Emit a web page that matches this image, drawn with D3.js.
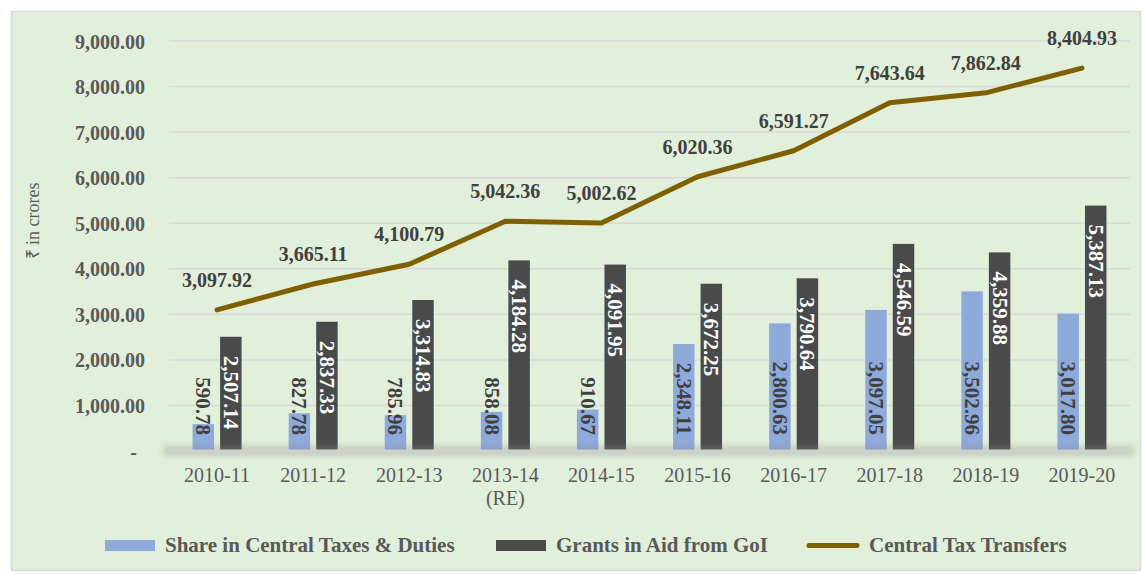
<!DOCTYPE html>
<html lang="en">
<head>
<meta charset="UTF-8">
<title>Central Tax Transfers</title>
<style>
    body { margin: 0; background: #fff; }
    svg text { font-family: 'Liberation Serif', 'Times New Roman', serif; }
</style>
<script src="https://d3js.org/d3.v7.min.js"></script>
</head>
<body>
<svg id="chart" width="1143" height="574"></svg>
<script>
    // data
    let years = ["2010-11", "2011-12", "2012-13", "2013-14|(RE)", "2014-15", "2015-16", "2016-17", "2017-18", "2018-19", "2019-20"];
    let shareTaxes = [590.78, 827.78, 785.96, 858.08, 910.67, 2348.11, 2800.63, 3097.05, 3502.96, 3017.80];
    let grantsAid = [2507.14, 2837.33, 3314.83, 4184.28, 4091.95, 3672.25, 3790.64, 4546.59, 4359.88, 5387.13];
    let transfers = [3097.92, 3665.11, 4100.79, 5042.36, 5002.62, 6020.36, 6591.27, 7643.64, 7862.84, 8404.93];
    let yTicks = [0, 1000, 2000, 3000, 4000, 5000, 6000, 7000, 8000, 9000];
    let seriesNames = ["Share in Central Taxes & Duties", "Grants in Aid from GoI", "Central Tax Transfers"];

    let margin = {top: 41, left: 169, right: 13, bottom: 123};
    let W = 1143, H = 574;
    let plotRight = W - margin.right, plotBottom = 451;

    let svg = d3.select("#chart");
    let fmt = d3.format(",.2f");

    let defs = svg.append("defs");
    defs.append("filter").attr("id", "blur").attr("x", "-5%").attr("y", "-200%").attr("width", "110%").attr("height", "500%")
        .append("feGaussianBlur").attr("stdDeviation", 3);

    // background + border
    svg.append("rect")
        .attr("x", 11.5).attr("y", 11.5)
        .attr("width", W - 14).attr("height", H - 15)
        .attr("fill", "#e2efda")
        .attr("stroke", "#d9d9d9").attr("stroke-width", 1.5);

    let x0 = d3.scaleBand().domain(years).range([margin.left, plotRight])
        .paddingInner(0.49).paddingOuter(0.245);
    let x1 = d3.scaleBand().domain(["share", "grants"]).range([0, x0.bandwidth()]).paddingInner(0.22);
    let y = d3.scaleLinear().domain([0, 9000]).range([plotBottom, margin.top]);

    // gridlines
    svg.append("g").selectAll("line")
        .data(yTicks.filter(d => d > 0))
        .join("line")
        .attr("x1", margin.left).attr("x2", plotRight)
        .attr("y1", d => y(d)).attr("y2", d => y(d))
        .attr("stroke", "#d9d9d9").attr("stroke-width", 1.5);

    // y axis labels
    let yAxis = svg.append("g")
        .attr("transform", "translate(" + (margin.left - 24) + ",0)")
        .call(d3.axisLeft(y).tickValues(yTicks).tickSize(0)
            .tickFormat(d => d === 0 ? "-" : fmt(d)));
    yAxis.select(".domain").remove();
    yAxis.selectAll("text")
        .attr("font-family", "'Liberation Serif', serif")
        .attr("font-size", 20).attr("font-weight", "bold")
        .attr("fill", "#595959")
        .attr("dy", "0.35em").attr("x", 0);
    yAxis.selectAll("text").filter(d => d === 0).attr("x", -8);

    // y axis title
    svg.append("text")
        .attr("transform", "translate(33,221) rotate(-90)")
        .attr("text-anchor", "middle").attr("dominant-baseline", "central")
        .attr("font-size", 18).attr("fill", "#595959")
        .text("₹ in crores");

    // bars
    let groups = svg.append("g").selectAll("g")
        .data(years)
        .join("g")
        .attr("transform", d => "translate(" + x0(d) + ",0)");

    groups.append("rect")
        .attr("x", x1("share")).attr("width", x1.bandwidth())
        .attr("y", (d, i) => y(shareTaxes[i]))
        .attr("height", (d, i) => plotBottom - y(shareTaxes[i]))
        .attr("fill", "#8eaadb");

    groups.append("rect")
        .attr("x", x1("grants")).attr("width", x1.bandwidth())
        .attr("y", (d, i) => y(grantsAid[i]))
        .attr("height", (d, i) => plotBottom - y(grantsAid[i]))
        .attr("fill", "#4a4a4a");

    // floor shadow
    svg.append("rect")
        .attr("x", margin.left - 6).attr("y", plotBottom - 5)
        .attr("width", plotRight - margin.left + 10).attr("height", 10)
        .attr("fill", "#8a8a8a").attr("opacity", 0.35)
        .attr("filter", "url(#blur)");
    svg.append("line")
        .attr("x1", margin.left).attr("x2", plotRight)
        .attr("y1", plotBottom).attr("y2", plotBottom)
        .attr("stroke", "#d0d0d0").attr("stroke-width", 3);

    // bar labels
    groups.append("text")
        .attr("transform", (d, i) => "translate(" + (x1("share") + x1.bandwidth() / 2) + "," + (plotBottom - 16) + ") rotate(90)")
        .attr("text-anchor", "end").attr("dominant-baseline", "central")
        .attr("font-size", 21).attr("font-weight", "bold").attr("fill", "#404040")
        .text((d, i) => fmt(shareTaxes[i]));

    groups.append("text")
        .attr("transform", (d, i) => "translate(" + (x1("grants") + x1.bandwidth() / 2) + "," + (y(grantsAid[i]) + 19) + ") rotate(90)")
        .attr("text-anchor", "start").attr("dominant-baseline", "central")
        .attr("font-size", 21).attr("font-weight", "bold").attr("fill", "#ffffff")
        .text((d, i) => fmt(grantsAid[i]));

    // line
    let cx = d => x0(d) + x0.bandwidth() / 2;
    let line = d3.line()
        .x((d, i) => cx(years[i]))
        .y(d => y(d));
    svg.append("path")
        .datum(transfers)
        .attr("d", line)
        .attr("fill", "none")
        .attr("stroke", "#7f6000").attr("stroke-width", 5)
        .attr("stroke-linecap", "round").attr("stroke-linejoin", "round");

    svg.append("g").selectAll("text")
        .data(transfers)
        .join("text")
        .attr("x", (d, i) => cx(years[i]))
        .attr("y", d => y(d) - 23)
        .attr("text-anchor", "middle")
        .attr("font-size", 20).attr("font-weight", "bold").attr("fill", "#404040")
        .text(d => fmt(d));

    // x axis labels
    let xl = svg.append("g").selectAll("text")
        .data(years)
        .join("text")
        .attr("x", d => cx(d))
        .attr("y", 482)
        .attr("text-anchor", "middle")
        .attr("font-size", 20).attr("fill", "#595959");
    xl.each(function(d) {
        let parts = d.split("|");
        let t = d3.select(this);
        parts.forEach((p, k) => {
            t.append("tspan").attr("x", cx(d)).attr("dy", k === 0 ? 0 : 23).text(p);
        });
    });

    // legend
    let legendItems = [
        {name: seriesNames[0], type: "rect", color: "#8eaadb", sx: 105, tx: 165},
        {name: seriesNames[1], type: "rect", color: "#4a4a4a", sx: 496, tx: 556},
        {name: seriesNames[2], type: "line", color: "#7f6000", sx: 806, tx: 869}
    ];
    let legend = svg.append("g").selectAll("g")
        .data(legendItems)
        .join("g");
    legend.filter(d => d.type === "rect").append("rect")
        .attr("x", d => d.sx).attr("y", 540)
        .attr("width", 50).attr("height", 11)
        .attr("fill", d => d.color);
    legend.filter(d => d.type === "line").append("line")
        .attr("x1", d => d.sx + 3).attr("x2", d => d.sx + 51)
        .attr("y1", 545.5).attr("y2", 545.5)
        .attr("stroke", d => d.color).attr("stroke-width", 5)
        .attr("stroke-linecap", "round");
    legend.append("text")
        .attr("x", d => d.tx).attr("y", 552)
        .attr("font-size", 21).attr("font-weight", "bold").attr("fill", "#595959")
        .text(d => d.name);
</script>
</body>
</html>
